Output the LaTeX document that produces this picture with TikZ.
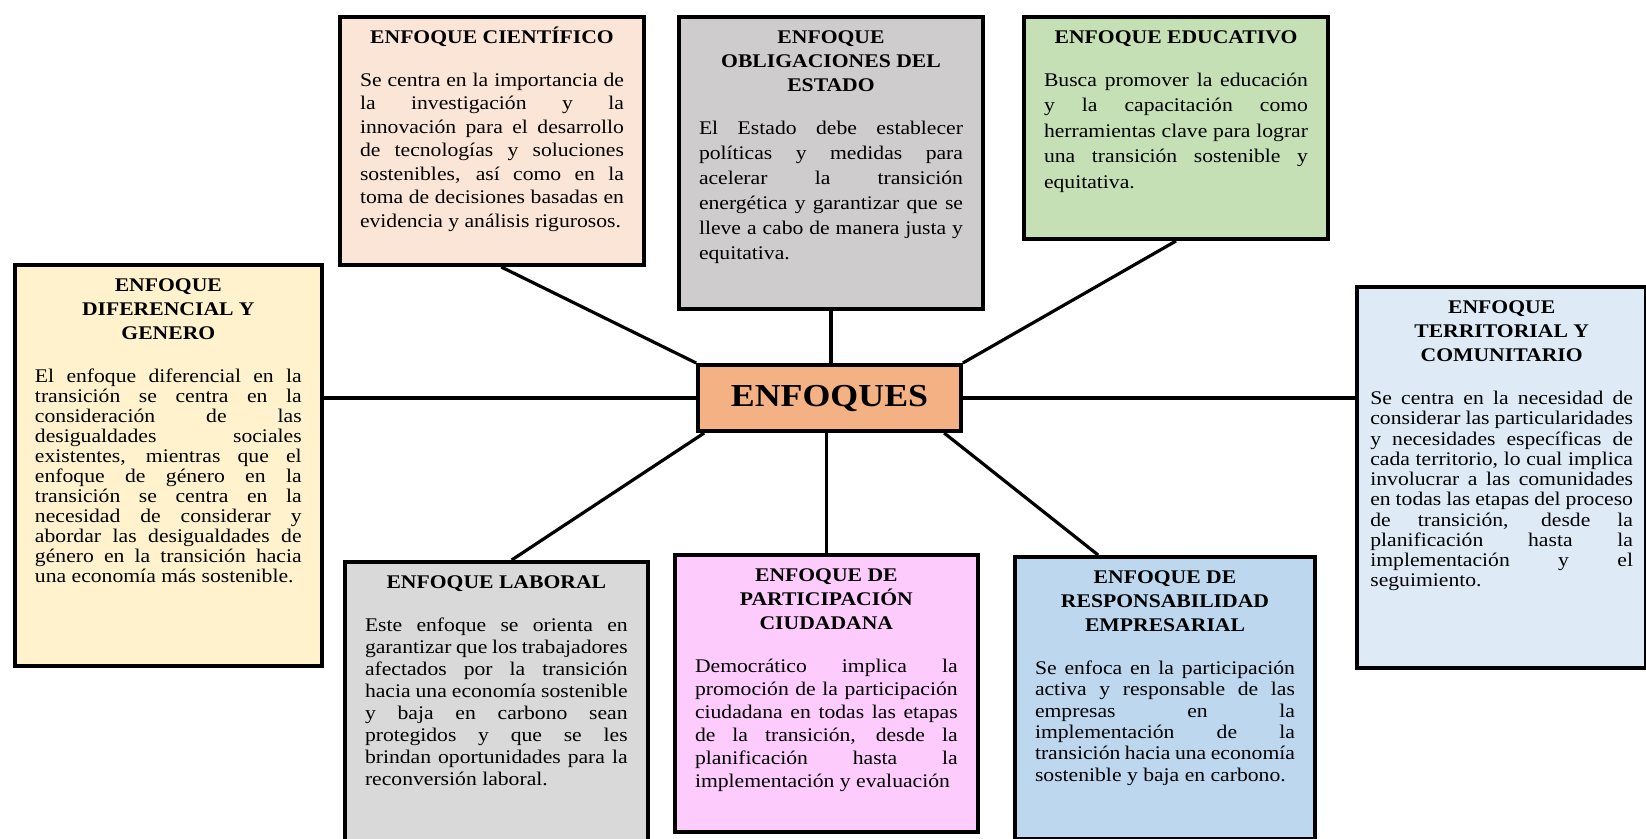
\documentclass[tikz,border=0pt]{standalone}
\usepackage{fontspec}
\setmainfont{Liberation Serif}[FakeStretch=1.12]
\usetikzlibrary{calc}

\definecolor{cienfill}{RGB}{251,229,214}
\definecolor{obligfill}{RGB}{206,204,204}
\definecolor{educfill}{RGB}{197,224,180}
\definecolor{diffill}{RGB}{255,242,204}
\definecolor{terrfill}{RGB}{222,235,247}
\definecolor{labfill}{RGB}{217,217,217}
\definecolor{partfill}{RGB}{253,204,253}
\definecolor{respfill}{RGB}{189,215,238}
\definecolor{enffill}{RGB}{244,177,131}

\tolerance=10000
\hbadness=10000
\hyphenpenalty=10000

\tikzset{
  enfbox/.style={draw, line width=3pt, anchor=north west, inner xsep=15pt, inner ysep=7.5pt},
  conn/.style={line width=2.4pt}
}

% #1 text width, #2 height, #3 line skip, #4 title, #5 text
\newcommand{\enfoque}[5]{%
  \parbox[t][#2][t]{#1}{%
    {\centering\bfseries\fontsize{14.5pt}{18pt}\selectfont\strut #4\par}%
    \vspace{\dimexpr 32pt-#3\relax}%
    {\fontsize{14.5pt}{#3}\selectfont #5\par}}}

\begin{document}
\begin{tikzpicture}[x=0.75pt,y=0.75pt,yscale=-1,xscale=1]
\useasboundingbox (0,0) rectangle (1646,839);
\clip (0,0) rectangle (1646,839);

% Text Node
\node [enfbox, fill=cienfill] (cien) at (338,15) {\enfoque{198pt}{171pt}{17.6pt}{ENFOQUE CIENTÍFICO}{Se centra en la importancia de\linebreak la investigación y la\linebreak innovación para el desarrollo\linebreak de tecnologías y soluciones\linebreak sostenibles, así como en la\linebreak toma de decisiones basadas en\linebreak evidencia y análisis rigurosos.}};
% Text Node
\node [enfbox, fill=obligfill] (oblig) at (677,15) {\enfoque{198pt}{204pt}{18.75pt}{ENFOQUE\\ OBLIGACIONES DEL\\ ESTADO}{El Estado debe establecer\linebreak políticas y medidas para\linebreak acelerar la transición\linebreak energética y garantizar que se\linebreak lleve a cabo de manera justa y\linebreak equitativa.}};
% Text Node
\node [enfbox, fill=educfill] (educ) at (1022,15) {\enfoque{198pt}{151.5pt}{19.1pt}{ENFOQUE EDUCATIVO}{Busca promover la educación\linebreak y la capacitación como\linebreak herramientas clave para lograr\linebreak una transición sostenible y\linebreak equitativa.}};
% Text Node
\node [enfbox, fill=diffill] (dif) at (13,263) {\enfoque{200pt}{285.75pt}{15pt}{ENFOQUE\\ DIFERENCIAL Y\\ GENERO}{El enfoque diferencial en la\linebreak transición se centra en la\linebreak consideración de las\linebreak desigualdades sociales\linebreak existentes, mientras que el\linebreak enfoque de género en la\linebreak transición se centra en la\linebreak necesidad de considerar y\linebreak abordar las desigualdades de\linebreak género en la transición hacia\linebreak una economía más sostenible.}};
% Text Node
\node [enfbox, fill=terrfill, inner xsep=10pt] (terr) at (1355,285) {\enfoque{197pt}{270.75pt}{15.2pt}{ENFOQUE\\ TERRITORIAL Y\\ COMUNITARIO}{Se centra en la necesidad de\linebreak considerar las particularidades\linebreak y necesidades específicas de\linebreak cada territorio, lo cual implica\linebreak involucrar a las comunidades\linebreak en todas las etapas del proceso\linebreak de transición, desde la\linebreak planificación hasta la\linebreak implementación y el\linebreak seguimiento.}};
% Text Node
\node [enfbox, fill=labfill] (lab) at (343,560) {\enfoque{197pt}{198.75pt}{16.5pt}{ENFOQUE LABORAL}{Este enfoque se orienta en\linebreak garantizar que los trabajadores\linebreak afectados por la transición\linebreak hacia una economía sostenible\linebreak y baja en carbono sean\linebreak protegidos y que se les\linebreak brindan oportunidades para la\linebreak reconversión laboral.}};
% Text Node
\node [enfbox, fill=partfill] (part) at (673,553) {\enfoque{197pt}{192.75pt}{17.25pt}{ENFOQUE DE\\ PARTICIPACIÓN\\ CIUDADANA}{Democrático implica la\linebreak promoción de la participación\linebreak ciudadana en todas las etapas\linebreak de la transición, desde la\linebreak planificación hasta la\linebreak implementación y evaluación}};
% Text Node
\node [enfbox, fill=respfill] (resp) at (1013,555) {\enfoque{195pt}{196.5pt}{16pt}{ENFOQUE DE\\ RESPONSABILIDAD\\ EMPRESARIAL}{Se enfoca en la participación\linebreak activa y responsable de las\linebreak empresas en la\linebreak implementación de la\linebreak transición hacia una economía\linebreak sostenible y baja en carbono.}};
% Text Node
\node [draw, line width=3pt, fill=enffill, minimum width=197pt, minimum height=49.5pt, font=\bfseries\fontsize{24pt}{28pt}\selectfont] (enfoques) at (829.5,398) {ENFOQUES};

%Straight Lines
\draw [conn] ($(cien.south west)!0.53!(cien.south east)$) -- (enfoques.north west);
\draw [conn] (oblig.south) -- (oblig.south |- enfoques.north);
\draw [conn] (educ.south) -- (enfoques.north east);
\draw [conn] (enfoques.west) -- (enfoques.west -| dif.east);
\draw [conn] (enfoques.east) -- (enfoques.east -| terr.west);
\draw [conn] ($(enfoques.south west)!0.03!(enfoques.south east)$) -- ($(lab.north west)!0.55!(lab.north east)$);
\draw [conn] (part.north) -- (part.north |- enfoques.south);
\draw [conn] ($(enfoques.south west)!0.93!(enfoques.south east)$) -- ($(resp.north west)!0.28!(resp.north east)$);

\end{tikzpicture}
\end{document}
